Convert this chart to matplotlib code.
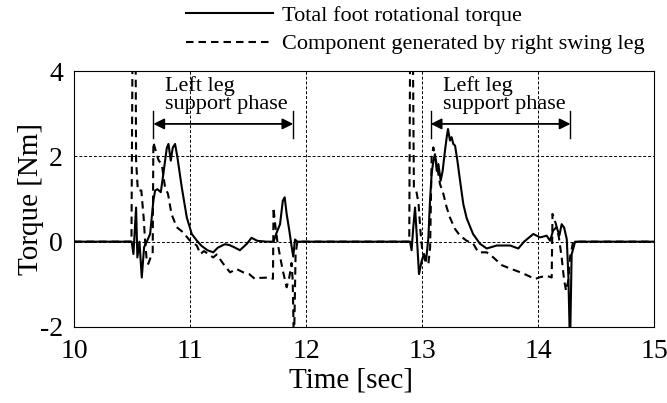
import matplotlib
matplotlib.use("Agg")
import matplotlib.pyplot as plt

plt.rcParams['font.family'] = ['Liberation Serif', 'DejaVu Serif']
plt.rcParams['axes.unicode_minus'] = False

# total foot rotational torque (solid)
t_total = [10.0, 10.497, 10.512, 10.535, 10.546, 10.564, 10.584, 10.604, 10.627, 10.656,
           10.684, 10.699, 10.719, 10.748, 10.77, 10.80, 10.814, 10.834, 10.851, 10.871,
           10.891, 10.929, 10.972, 11.015, 11.06, 11.10, 11.15, 11.20, 11.24, 11.30,
           11.34, 11.38, 11.43, 11.49, 11.53, 11.58, 11.66, 11.72, 11.745, 11.776,
           11.80, 11.816, 11.833, 11.856, 11.875, 11.89, 11.905, 11.925,
           12.897, 12.91, 12.925, 12.94, 12.954, 12.974, 12.997, 13.017, 13.035, 13.055,
           13.069, 13.083, 13.098, 13.112, 13.127, 13.141, 13.161, 13.178, 13.198, 13.213,
           13.224, 13.241, 13.255, 13.27, 13.285, 13.305, 13.328, 13.356, 13.385, 13.44,
           13.50, 13.558, 13.644, 13.76, 13.83, 13.88, 13.96, 14.018, 14.075, 14.104,
           14.13, 14.16, 14.185, 14.204, 14.225, 14.248, 14.262, 14.276, 14.29, 14.32, 15.0]
v_total = [0.0, 0.0, -0.29, 0.8, -0.37, 0.0, -0.84, -0.13, 0.0, 0.18,
           0.96, 1.2, 1.23, 1.16, 1.59, 2.2, 2.29, 1.9, 2.2, 2.29,
           1.98, 1.27, 0.57, 0.18, 0.02, -0.1, -0.2, -0.25, -0.14, -0.06,
           -0.08, -0.13, -0.2, -0.05, 0.09, 0.02, 0.0, 0.0, 0.2, 0.41,
           0.96, 1.04, 0.65, 0.26, -0.1, -0.35, 0.05, 0.0,
           0.0, -0.2, 0.34, 0.8, 0.18, -0.76, -0.45, -0.29, -0.45, 0.1,
           0.96, 1.59, 1.9, 2.05, 1.66, 1.82, 1.43, 1.66, 2.13, 2.45,
           2.64, 2.37, 2.45, 2.29, 2.25, 1.9, 1.43, 0.88, 0.55, 0.18,
           -0.05, -0.16, -0.09, -0.09, -0.16, 0.0, 0.18, 0.1, 0.14, 0.02,
           0.26, 0.34, 0.15, 0.41, 0.33, 0.06, -0.82, -2.5, -0.3, 0.0, 0.0]

# component generated by right swing leg (dashed)
t_swing = [10.0, 10.495, 10.505, 10.53, 10.535, 10.55, 10.58, 10.60, 10.613, 10.627,
           10.64, 10.66, 10.678, 10.684, 10.713, 10.73, 10.756, 10.785, 10.81, 10.84,
           10.885, 10.94, 11.0, 11.058, 11.09, 11.12, 11.2, 11.23, 11.287, 11.345,
           11.40, 11.46, 11.51, 11.56, 11.60, 11.69, 11.715, 11.72, 11.73, 11.753,
           11.78, 11.80, 11.833, 11.857, 11.875, 11.885, 11.896, 11.91, 11.925,
           12.89, 12.898, 12.92, 12.93, 12.95, 12.97, 12.985, 13.0, 13.026, 13.055,
           13.07, 13.083, 13.098, 13.112, 13.127, 13.155, 13.184, 13.213, 13.24, 13.284,
           13.328, 13.385, 13.44, 13.486, 13.558, 13.615, 13.687, 13.76, 13.83, 13.9,
           13.975, 14.02, 14.075, 14.118, 14.125, 14.155, 14.18, 14.204, 14.225, 14.242,
           14.262, 14.276, 14.30, 14.32, 15.0]
v_swing = [0.0, 0.0, 5.0, 5.0, 1.9, 1.2, 1.2, 0.57, 0.0, -0.45,
           -0.52, -0.37, -0.3, 2.33, 2.05, 1.9, 1.82, 1.27, 1.12, 0.65,
           0.34, 0.22, 0.02, -0.09, -0.29, -0.22, -0.37, -0.3, -0.52, -0.72,
           -0.64, -0.72, -0.76, -0.875, -0.85, -0.84, -0.87, 0.8, 0.5, 0.0,
           -0.4, -0.68, -1.07, -0.82, -0.5, -0.9, -2.5, -0.3, 0.0,
           0.0, 5.0, 5.0, 1.27, 1.2, 0.9, 0.3, -0.15, -0.45, -0.52,
           -0.13, 1.98, 2.21, 1.98, 1.82, 1.35, 1.12, 0.8, 0.57, 0.3,
           0.14, 0.02, -0.04, -0.25, -0.25, -0.37, -0.55, -0.63, -0.7, -0.78,
           -0.875, -0.83, -0.8, -0.84, 0.65, 0.41, 0.1, -0.37, -0.9, -1.15,
           -0.9, -0.37, -0.04, 0.0, 0.0]

# support phase spans (start, end) and label position
phase_start = [10.684, 13.075]
phase_end = [11.89, 14.28]
label_x = [10.784, 13.184]

fig = plt.figure(figsize=(6.67, 4.03), dpi=100)
ax = fig.add_axes([0.111, 0.1886, 0.8695, 0.6352])

ax.plot(t_total, v_total, color='black', lw=1.5, label='Total foot rotational torque')
ax.plot(t_swing, v_swing, color='black', lw=1.5, dashes=(3.6, 2.4),
        label='Component generated by right swing leg')

ax.set_xlim(10, 15)
ax.set_ylim(-2, 4)
ax.set_xticks([10, 11, 12, 13, 14, 15])
ax.set_yticks([-2, 0, 2, 4])
ax.grid(True, color='black', lw=0.7, ls=(0, (3, 2)))
ax.tick_params(length=0, labelsize=20)
ax.tick_params(axis='y', pad=8)
ax.tick_params(axis='x', pad=9)
ax.set_xlabel('Time [sec]', fontsize=21, labelpad=2)
ax.set_ylabel('Torque [Nm]', fontsize=21, labelpad=-3)
ax.xaxis.set_label_coords(0.478, -0.16)

for s, e, lx in zip(phase_start, phase_end, label_x):
    ax.annotate('', xy=(s, 2.76), xytext=(e, 2.76),
                arrowprops=dict(arrowstyle='<|-|>', color='black', lw=1.3,
                                mutation_scale=16, shrinkA=0, shrinkB=0))
    ax.plot([s, s], [2.44, 3.07], color='black', lw=1.0)
    ax.plot([e, e], [2.44, 3.07], color='black', lw=1.0)
    ax.text(lx, 3.44, 'Left leg\nsupport phase', fontsize=16, ha='left', va='center',
            linespacing=0.95)

ax.legend(loc='lower left', bbox_to_anchor=(0.193, 1.065), frameon=False, borderpad=0,
          borderaxespad=0, handlelength=3.9, handletextpad=0.4, labelspacing=0.34,
          fontsize=16)

fig.savefig('out.png', dpi=100)
